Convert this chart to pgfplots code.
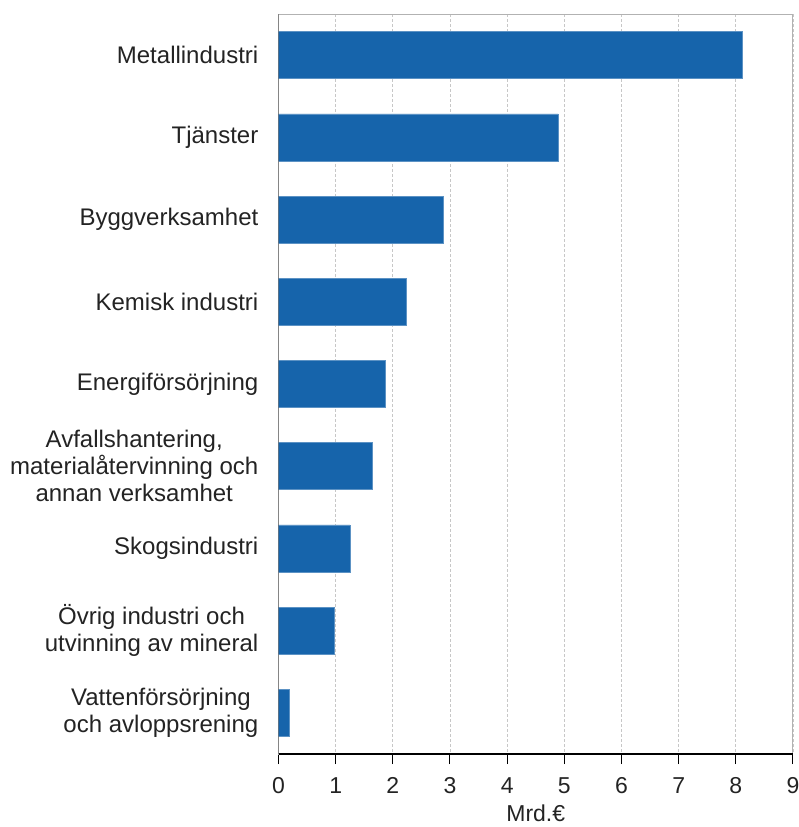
\documentclass[border=0pt]{standalone}
\usepackage{pgfplots}
\pgfplotsset{compat=1.18}
\usepackage{fontspec}
\setmainfont{Liberation Sans}
\definecolor{barblue}{RGB}{22,100,171}
\definecolor{txt}{RGB}{35,35,35}
\begin{document}
\begin{tikzpicture}
\begin{axis}[
  at={(278.5pt,73pt)}, anchor=south west,
  scale only axis, width=514.5pt, height=740pt,
  xbar, bar width=47pt,
  xmin=0, xmax=9, ymin=-0.5, ymax=8.5,
  y dir=reverse,
  xtick={0,...,9},
  ytick={0,...,8},
  yticklabels={Metallindustri,Tjänster,Byggverksamhet,Kemisk industri,Energiförsörjning,{Avfallshantering,\\materialåtervinning och\\annan verksamhet},Skogsindustri,{Övrig industri och\\utvinning av mineral},{Vattenförsörjning\\och avloppsrening}},
  /pgf/number format/assume math mode=true,
  xtick pos=bottom, tick align=outside, major tick length=10pt,
  xtick style={black, line width=1pt},
  ytick style={draw=none},
  xmajorgrids, grid style={densely dashed, black!22, line width=0.8pt},
  axis line style={draw=black!30, line width=1pt},
  xticklabel style={font=\fontsize{23}{28}\selectfont, text=txt, inner sep=0pt, anchor=north, yshift=-13pt},
  yticklabel style={font=\fontsize{24}{27}\selectfont, text=txt, align=center, inner sep=0pt, anchor=east, xshift=-10pt},
  xlabel={Mrd.€},
  xlabel style={font=\fontsize{23}{28}\selectfont, text=txt, inner sep=0pt, anchor=north, at={(axis description cs:0.5,0)}, yshift=-51pt},
]
\addplot[fill=barblue, draw=barblue!70!white, line width=0.6pt] coordinates {
  (8.11,0) (4.89,1) (2.88,2) (2.23,3) (1.87,4) (1.64,5) (1.25,6) (0.97,7) (0.19,8)
};
\draw[black!80, line width=1.2pt] (rel axis cs:0,0) -- (rel axis cs:0,1);
\draw[black, line width=1.2pt] (rel axis cs:0,0) -- (rel axis cs:1,0);
\end{axis}
\pgfresetboundingbox
\useasboundingbox (0,0) rectangle (799pt,827pt);
\end{tikzpicture}
\end{document}
